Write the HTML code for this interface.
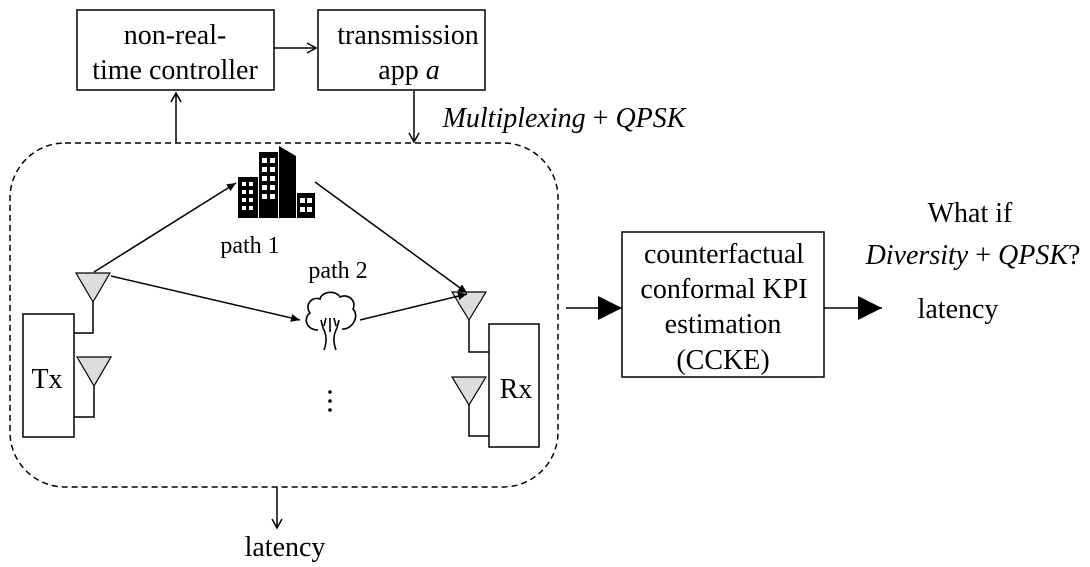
<!DOCTYPE html>
<html><head><meta charset="utf-8"><style>
html,body{margin:0;padding:0;background:#fff;}
svg{display:block;}
text{font-family:"Liberation Serif",serif;fill:#000;}
</style></head><body>
<svg width="1090" height="567" viewBox="0 0 1090 567" xmlns="http://www.w3.org/2000/svg">
<defs>
<marker id="oa" markerWidth="12" markerHeight="12" refX="10" refY="6" orient="auto" markerUnits="userSpaceOnUse">
<path d="M1,1 L10,6 L1,11" fill="none" stroke="#000" stroke-width="1.5"/></marker>
<marker id="fa" markerWidth="10" markerHeight="10" refX="9" refY="5" orient="auto" markerUnits="userSpaceOnUse">
<path d="M0,1 L9,5 L0,9 Z" fill="#000"/></marker>
<marker id="ba" markerWidth="26" markerHeight="24" refX="24" refY="12" orient="auto" markerUnits="userSpaceOnUse">
<path d="M0,0 L24,12 L0,24 Z" fill="#000"/></marker>
</defs>
<g stroke="#000" stroke-width="1.5" fill="none">
<rect x="77" y="10" width="197" height="80" fill="#fff"/>
<rect x="318" y="10" width="167" height="80" fill="#fff"/>
<line x1="274" y1="48" x2="316" y2="48" marker-end="url(#oa)"/>
<line x1="176" y1="143" x2="176" y2="93" marker-end="url(#oa)"/>
<line x1="414" y1="91" x2="414" y2="142" marker-end="url(#oa)"/>
<rect x="10" y="143" width="548" height="344" rx="55" ry="55" stroke-dasharray="6,4"/>
<line x1="277" y1="487" x2="277" y2="528" marker-end="url(#oa)"/>
<rect x="622" y="232" width="202" height="145"/>
<line x1="566" y1="308" x2="622" y2="308" marker-end="url(#ba)"/>
<line x1="824" y1="308" x2="882" y2="308" marker-end="url(#ba)"/>
<rect x="23" y="314" width="51" height="123"/>
<polyline points="93,302 93,333 74,333"/>
<polyline points="94,386 94,417 74,417"/>
<rect x="489" y="324" width="50" height="123"/>
<polyline points="469,320 469,352 489,352"/>
<polyline points="469,405 469,436 489,436"/>
</g>
<g stroke="#000" stroke-width="1.2" fill="#ddd">
<polygon points="76,273 110,273 93,302"/>
<polygon points="77,357 111,357 94,386"/>
<polygon points="452,292 486,292 469,320"/>
<polygon points="452,377 486,377 469,405"/>
</g>
<g stroke="#000" stroke-width="1.5" fill="none">
<line x1="94" y1="272" x2="236" y2="183" marker-end="url(#fa)"/>
<line x1="315" y1="182" x2="467" y2="293" marker-end="url(#fa)"/>
<line x1="111" y1="276" x2="300" y2="320" marker-end="url(#fa)"/>
<line x1="360" y1="320" x2="467" y2="294" marker-end="url(#fa)"/>
</g>
<g fill="#000">
<rect x="238" y="177" width="20" height="41"/>
<rect x="259" y="152" width="19" height="66"/>
<polygon points="279,146 296,156 296,218 279,218"/>
<rect x="297" y="193" width="18" height="25"/>
</g>
<g fill="#fff">
<rect x="242" y="182" width="4" height="4"/><rect x="249" y="182" width="4" height="4"/>
<rect x="242" y="190" width="4" height="4"/><rect x="249" y="190" width="4" height="4"/>
<rect x="242" y="198" width="4" height="4"/><rect x="249" y="198" width="4" height="4"/>
<rect x="242" y="206" width="4" height="4"/><rect x="249" y="206" width="4" height="4"/>
<rect x="262" y="158" width="5" height="5"/><rect x="270" y="158" width="5" height="5"/>
<rect x="262" y="167" width="5" height="5"/><rect x="270" y="167" width="5" height="5"/>
<rect x="262" y="176" width="5" height="5"/><rect x="270" y="176" width="5" height="5"/>
<rect x="262" y="185" width="5" height="5"/><rect x="270" y="185" width="5" height="5"/>
<rect x="262" y="194" width="5" height="5"/><rect x="270" y="194" width="5" height="5"/>
<rect x="300" y="198" width="5" height="5"/><rect x="307" y="198" width="5" height="5"/>
<rect x="300" y="207" width="5" height="5"/><rect x="307" y="207" width="5" height="5"/>
</g>
<g stroke="#000" stroke-width="1.6" fill="none">
<path d="M318,330 C306,330 303,318 310,313 C304,305 312,296 320,299 C322,291 336,290 340,297 C348,293 357,301 353,309 C360,316 352,330 342,329"/>
<path d="M324,350 C327,342 327,335 323,328 L321,320 M324,326 L326,318 M336,350 C333,342 333,335 337,328 L339,320 M336,326 L334,318 M330,332 L330,318"/>
</g>
<g fill="#000">
<circle cx="330" cy="392" r="1.8"/><circle cx="330" cy="401" r="1.8"/><circle cx="330" cy="410" r="1.8"/>
</g>
<g font-size="28" text-anchor="middle">
<text x="175" y="44">non-real-</text>
<text x="175" y="79">time controller</text>
<text x="408" y="44">transmission</text>
<text x="409" y="79">app <tspan font-style="italic">a</tspan></text>
<text x="724" y="263">counterfactual</text>
<text x="724" y="298">conformal KPI</text>
<text x="723" y="333">estimation</text>
<text x="723" y="369">(CCKE)</text>
<text x="970" y="222">What if</text>
<text x="973" y="264"><tspan font-style="italic">Diversity</tspan> + <tspan font-style="italic">QPSK</tspan>?</text>
<text x="958" y="318">latency</text>
<text x="285" y="556">latency</text>
<text x="564" y="127" font-style="italic">Multiplexing <tspan font-style="normal">+</tspan> QPSK</text>
<text x="47" y="388">Tx</text>
<text x="516" y="398">Rx</text>
<text x="250" y="253" font-size="24">path 1</text>
<text x="338" y="278" font-size="24">path 2</text>
</g>
</svg>
</body></html>
